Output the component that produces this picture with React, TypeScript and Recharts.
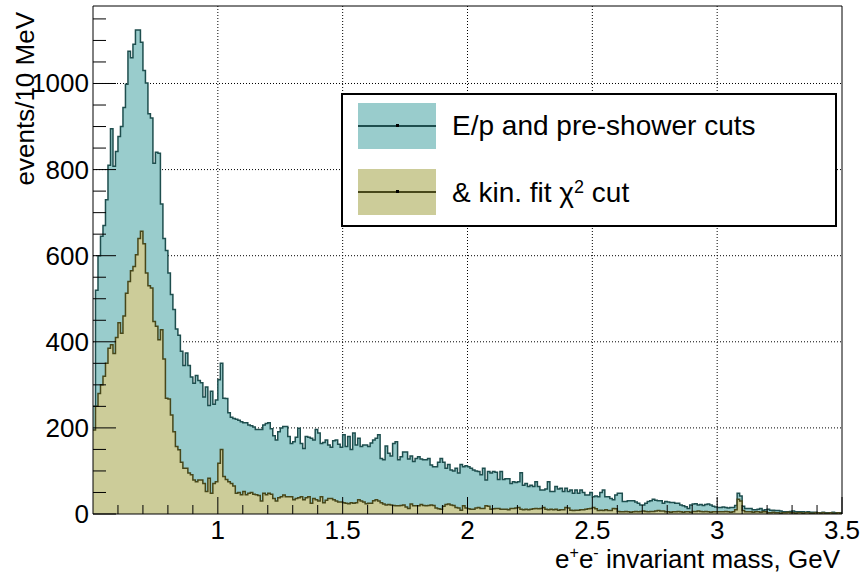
import React from 'react';
import { ComposedChart, Area, XAxis, YAxis, CartesianGrid, ReferenceLine, Legend } from 'recharts';

const FONT = "'Liberation Sans', Arial, Helvetica, sans-serif";

// 10 MeV bins, 0.50 .. 3.50 GeV
const binStart = 0.5;
const binWidth = 0.01;

// E/p and pre-shower cuts
const tealA = [250, 520, 600, 645, 670, 730, 810, 895, 808, 842, 877, 900, 944, 998, 1075, 1060, 1091, 1124, 1124, 1096, 1030, 1001, 930, 920, 815, 840, 838, 720, 640, 612, 560, 510, 475, 430, 415, 378, 345, 374, 345, 318, 304, 322, 310, 305, 272, 295, 252, 285, 255, 265]; // 0.50-0.99
const tealB = [312, 350, 269, 268, 235, 225, 222, 220, 218, 214, 212, 212, 207, 205, 202, 196, 196, 196, 207, 210, 212, 198, 182, 172, 191, 200, 203, 203, 180, 164, 168, 178, 199, 164, 152, 180, 178, 176, 172, 196, 188, 164, 166, 172, 160, 155, 170, 172, 162, 155]; // 1.00-1.49
const tealC = [184, 157, 180, 150, 188, 160, 176, 157, 160, 160, 157, 165, 172, 176, 184, 129, 126, 158, 141, 135, 164, 168, 126, 133, 144, 144, 128, 135, 122, 129, 133, 128, 126, 126, 129, 114, 110, 110, 120, 129, 120, 106, 115, 102, 100, 106, 95, 115, 110, 112]; // 1.50-1.99
const tealD = [110, 106, 102, 100, 99, 91, 106, 79, 99, 95, 99, 97, 80, 99, 80, 82, 82, 71, 75, 73, 75, 96, 67, 71, 64, 67, 64, 75, 64, 56, 56, 58, 75, 52, 52, 64, 58, 60, 52, 60, 52, 56, 48, 56, 48, 56, 50, 44, 44, 50]; // 2.00-2.49
const tealE = [40, 42, 40, 50, 56, 40, 40, 36, 33, 44, 48, 48, 29, 29, 31, 31, 31, 28, 25, 21, 21, 25, 29, 31, 34, 32, 31, 31, 25, 29, 28, 27, 27, 25, 25, 21, 19, 17, 13, 21, 23, 24, 21, 22, 20, 22, 23, 21, 18, 16]; // 2.50-2.99
const tealF = [15, 15, 16, 15, 14, 15, 15, 20, 48, 42, 18, 13, 13, 13, 10, 10, 11, 13, 9, 10, 11, 9, 9, 8, 8, 7, 5, 5, 5, 6, 7, 5, 5, 5, 5, 4, 5, 4, 4, 4, 3, 3, 4, 3, 3, 3, 4, 3, 3, 3]; // 3.00-3.49

// & kin. fit chi2 cut
const goldA = [195, 250, 280, 300, 320, 350, 385, 393, 373, 410, 444, 420, 460, 513, 540, 565, 575, 602, 640, 657, 628, 560, 530, 525, 447, 436, 405, 428, 360, 269, 267, 230, 191, 157, 149, 120, 106, 106, 95, 91, 79, 75, 79, 79, 71, 52, 83, 48, 71, 75];
const goldB = [118, 150, 87, 80, 75, 71, 65, 48, 50, 45, 52, 45, 48, 50, 46, 45, 43, 30, 48, 45, 48, 46, 36, 30, 38, 40, 44, 40, 40, 40, 33, 36, 38, 40, 33, 38, 40, 25, 36, 33, 30, 40, 26, 32, 36, 36, 33, 30, 28, 28];
const goldC = [26, 25, 24, 26, 25, 26, 33, 30, 28, 24, 25, 25, 31, 33, 30, 26, 23, 21, 22, 21, 20, 19, 19, 20, 21, 16, 13, 23, 19, 19, 19, 22, 20, 19, 20, 21, 20, 14, 12, 11, 18, 22, 23, 21, 20, 15, 14, 9, 19, 14];
const goldD = [12, 11, 11, 14, 15, 13, 13, 19, 18, 11, 12, 13, 13, 11, 11, 11, 10, 13, 13, 14, 15, 11, 10, 11, 10, 11, 12, 13, 12, 13, 15, 11, 10, 11, 10, 11, 9, 10, 10, 15, 14, 9, 8, 9, 9, 10, 10, 11, 12, 13];
const goldE = [15, 12, 8, 9, 8, 10, 8, 8, 13, 12, 6, 5, 5, 6, 5, 4, 5, 6, 5, 6, 7, 6, 5, 6, 6, 7, 8, 7, 7, 5, 5, 4, 5, 5, 6, 5, 4, 5, 5, 4, 6, 6, 7, 6, 5, 6, 5, 4, 5, 5];
const goldF = [5, 5, 5, 6, 5, 4, 5, 10, 34, 30, 8, 5, 5, 5, 4, 5, 5, 4, 5, 5, 3, 3, 4, 3, 3, 2, 3, 3, 4, 3, 3, 2, 3, 3, 2, 3, 3, 2, 2, 3, 3, 2, 3, 2, 2, 3, 2, 2, 3, 2];

const xDomain = [0.5, 3.5];
const yDomain = [0, 1180];
const xMajorTicks = [1, 1.5, 2, 2.5, 3, 3.5];
const xTicks = [0.6, 0.7, 0.8, 0.9, 1, 1.1, 1.2, 1.3, 1.4, 1.5, 1.6, 1.7, 1.8, 1.9, 2, 2.1, 2.2, 2.3, 2.4, 2.5, 2.6, 2.7, 2.8, 2.9, 3, 3.1, 3.2, 3.3, 3.4, 3.5];
const yMajorTicks = [0, 200, 400, 600, 800, 1000];
const yTicks = [0, 50, 100, 150, 200, 250, 300, 350, 400, 450, 500, 550, 600, 650, 700, 750, 800, 850, 900, 950, 1000, 1050, 1100, 1150];
const gridX = [1, 1.5, 2, 2.5, 3];
const gridY = [200, 400, 600, 800, 1000];

const teal = [...tealA, ...tealB, ...tealC, ...tealD, ...tealE, ...tealF];
const gold = [...goldA, ...goldB, ...goldC, ...goldD, ...goldE, ...goldF];

const data = teal.map((v, i) => ({ x: +(binStart + i * binWidth).toFixed(2), teal: v, gold: gold[i] }));
data.push({ x: 3.5, teal: teal[teal.length - 1], gold: gold[gold.length - 1] });

const TEAL_FILL = '#99cccc';
const TEAL_LINE = '#1e4e4e';
const GOLD_FILL = '#cccc99';
const GOLD_LINE = '#47471a';

function XTick({ x, y, payload }: any) {
    const v = payload.value;
    const major = xMajorTicks.includes(v);
    return (
        <g>
            <line x1={x} x2={x} y1={y} y2={y - (major ? 17 : 9)} stroke="#000" />
            {major && (
                <text x={x} y={y + 16} textAnchor="middle" dominantBaseline="central" fontSize={26} fontFamily={FONT} fill="#000">
                    {String(v)}
                </text>
            )}
        </g>
    );
}

function YTick({ x, y, payload }: any) {
    const v = payload.value;
    const major = yMajorTicks.includes(v);
    return (
        <g>
            <line x1={x} x2={x + (major ? 23 : 13)} y1={y} y2={y} stroke="#000" />
            {major && (
                <text x={x - 4} y={y} textAnchor="end" dominantBaseline="central" fontSize={26} fontFamily={FONT} fill="#000">
                    {String(v)}
                </text>
            )}
        </g>
    );
}

const XTitle = () => (
    <text x={840} y={568} textAnchor="end" fontSize={26} fontFamily={FONT} fill="#000">
        e<tspan dy={-10} fontSize={16}>+</tspan>
        <tspan dy={10}>e</tspan>
        <tspan dy={-10} fontSize={16}>-</tspan>
        <tspan dy={10}> invariant mass, GeV</tspan>
    </text>
);

const YTitle = () => (
    <text transform="translate(34,12) rotate(-90)" textAnchor="end" fontSize={26} fontFamily={FONT} fill="#000">
        events/10 MeV
    </text>
);

function Swatch({ fill, line, top }: { fill: string; line: string; top: number }) {
    return (
        <div style={{ position: 'absolute', left: 15, top, width: 78, height: 46, background: fill }}>
            <div style={{ position: 'absolute', left: 0, right: 0, top: 22, height: 2, background: line }} />
            <div style={{ position: 'absolute', left: 38, top: 21, width: 3, height: 3, background: '#000' }} />
        </div>
    );
}

const renderLegend = () => (
    <div
        style={{
            position: 'relative',
            width: 496,
            height: 134,
            boxSizing: 'border-box',
            border: '2px solid #000',
            background: '#fff',
            fontFamily: FONT,
            fontSize: 28,
            color: '#000',
        }}
    >
        <Swatch fill={TEAL_FILL} line={TEAL_LINE} top={8} />
        <Swatch fill={GOLD_FILL} line={GOLD_LINE} top={74} />
        <div style={{ position: 'absolute', left: 109, top: 31, transform: 'translateY(-50%)', whiteSpace: 'nowrap' }}>
            E/p and pre-shower cuts
        </div>
        <div style={{ position: 'absolute', left: 109, top: 98, transform: 'translateY(-50%)', whiteSpace: 'nowrap' }}>
            &amp; kin. fit χ<sup style={{ fontSize: 18, verticalAlign: 9, lineHeight: 0 }}>2</sup> cut
        </div>
    </div>
);

// grid positions follow the same linear mapping as the axes
const gridVertical = ({ offset }: any) =>
    gridX.map((v) => offset.left + ((v - xDomain[0]) / (xDomain[1] - xDomain[0])) * offset.width);
const gridHorizontal = ({ offset }: any) =>
    gridY.map((v) => offset.top + (1 - (v - yDomain[0]) / (yDomain[1] - yDomain[0])) * offset.height);

export default function App() {
    return (
        <div style={{ position: 'absolute', left: 0, top: 0, background: '#fff' }}>
            <ComposedChart width={861} height={574} data={data} margin={{ top: 6, right: 19, left: 0, bottom: 0 }}>
                <CartesianGrid
                    verticalCoordinatesGenerator={gridVertical}
                    horizontalCoordinatesGenerator={gridHorizontal}
                    stroke="#000"
                    strokeWidth={1}
                    strokeDasharray="1 2"
                />
                <Area
                    type="stepAfter"
                    dataKey="teal"
                    fill={TEAL_FILL}
                    fillOpacity={1}
                    stroke={TEAL_LINE}
                    strokeWidth={1.5}
                    dot={false}
                    activeDot={false}
                    isAnimationActive={false}
                />
                <Area
                    type="stepAfter"
                    dataKey="gold"
                    fill={GOLD_FILL}
                    fillOpacity={1}
                    stroke={GOLD_LINE}
                    strokeWidth={1.5}
                    dot={false}
                    activeDot={false}
                    isAnimationActive={false}
                />
                <XAxis
                    dataKey="x"
                    type="number"
                    domain={xDomain}
                    allowDataOverflow
                    ticks={xTicks}
                    interval={0}
                    height={60}
                    tickSize={0}
                    tickMargin={0}
                    tick={<XTick />}
                    axisLine={{ stroke: '#000' }}
                    label={<XTitle />}
                />
                <YAxis
                    type="number"
                    domain={yDomain}
                    allowDataOverflow
                    ticks={yTicks}
                    interval={0}
                    width={93}
                    tickSize={0}
                    tickMargin={0}
                    tick={<YTick />}
                    axisLine={{ stroke: '#000' }}
                    label={<YTitle />}
                />
                <ReferenceLine y={1180} stroke="#000" />
                <ReferenceLine x={3.5} stroke="#000" />
                <Legend
                    layout="vertical"
                    align="center"
                    verticalAlign="middle"
                    content={renderLegend}
                    wrapperStyle={{ left: 341, top: 93, width: 496, height: 134 }}
                />
            </ComposedChart>
        </div>
    );
}
